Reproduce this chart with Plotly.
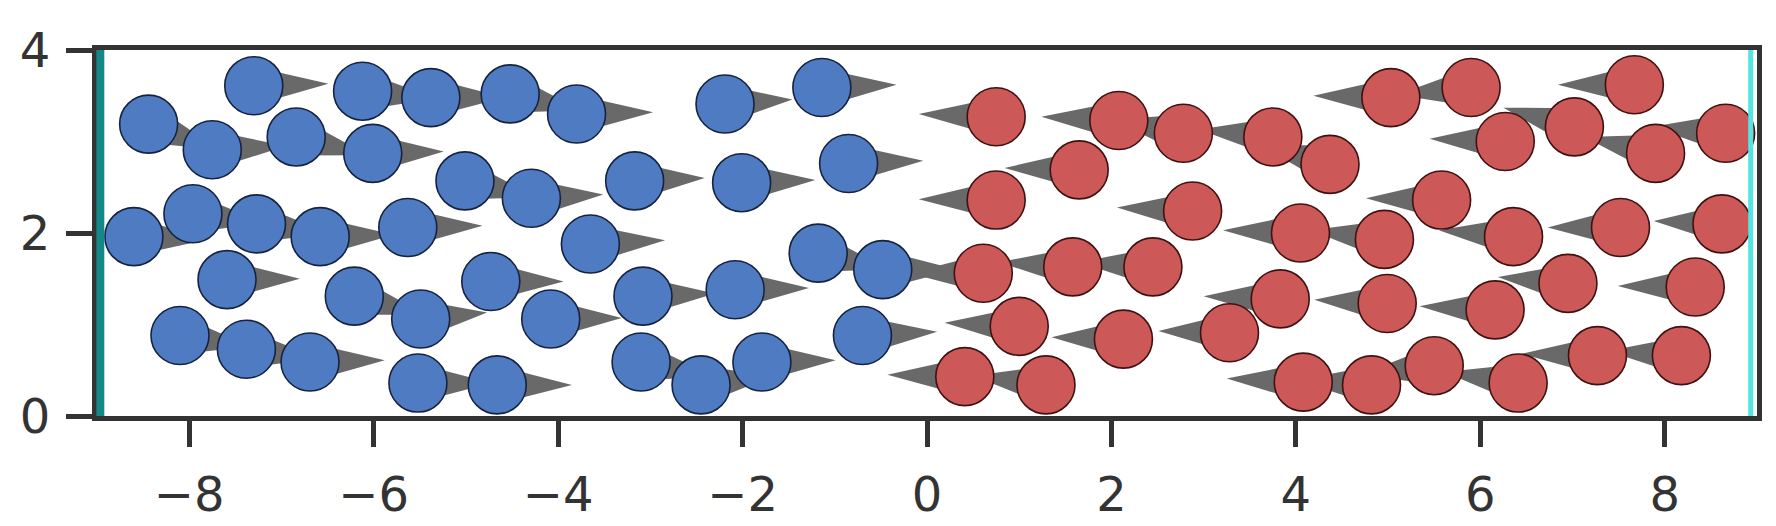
import numpy as np
import plotly.graph_objects as go

# ---------------- data ----------------
blue_x = [-7.30, -8.44, -7.75, -6.84, -6.12, -6.01, -5.38, -4.52, -3.80, -5.01,
          -4.29, -3.17, -2.01, -0.85, -2.19, -1.14, -8.60, -7.96, -7.27, -6.58,
          -7.59, -6.21, -5.49, -8.10, -7.38, -6.69, -5.63, -3.65, -4.73, -4.08,
          -3.08, -3.10, -5.52, -4.66, -2.45, -1.79, -0.70, -1.18, -0.48, -2.08]
blue_y = [3.61, 3.19, 2.91, 3.05, 3.55, 2.87, 3.48, 3.52, 3.30, 2.57,
          2.38, 2.57, 2.55, 2.76, 3.41, 3.59, 1.96, 2.21, 2.10, 1.96,
          1.49, 1.31, 1.06, 0.88, 0.73, 0.59, 2.06, 1.88, 1.47, 1.06,
          1.31, 0.59, 0.36, 0.34, 0.34, 0.59, 0.88, 1.78, 1.60, 1.38]
blue_vx = [0.81, 0.76, 0.80, 0.78, 0.80, 0.77, 0.80, 0.77, 0.83, 0.78,
           0.78, 0.76, 0.80, 0.81, 0.73, 0.81, 0.80, 0.78, 0.78, 0.80,
           0.79, 0.76, 0.72, 0.76, 0.78, 0.81, 0.81, 0.81, 0.79, 0.77,
           0.78, 0.78, 0.80, 0.81, 0.79, 0.80, 0.81, 0.77, 0.80, 0.80]
blue_vy = [0.02, -0.28, 0.04, -0.20, -0.08, 0.02, 0.00, -0.18, 0.02, -0.18,
           0.04, 0.03, 0.03, 0.03, 0.05, 0.03, -0.03, -0.10, -0.10, 0.02,
           0.01, -0.20, 0.07, -0.12, -0.10, 0.02, 0.02, 0.04, 0.00, 0.01,
           0.03, -0.15, 0.00, 0.00, 0.10, 0.02, 0.04, -0.18, 0.00, 0.02]

red_x = [0.75, 2.08, 2.78, 3.75, 4.37, 5.03, 5.90, 7.67, 6.27, 7.02,
         7.90, 8.66, 1.65, 0.75, 2.88, 4.05, 4.96, 5.58, 6.36, 7.52,
         8.62, 0.61, 1.58, 2.45, 1.00, 2.13, 3.28, 3.83, 4.99, 6.16,
         6.95, 8.33, 0.41, 1.29, 4.08, 4.82, 5.50, 6.41, 7.27, 8.18]
red_y = [3.27, 3.23, 3.09, 3.05, 2.75, 3.48, 3.59, 3.62, 3.00, 3.16,
         2.87, 3.09, 2.69, 2.36, 2.24, 2.00, 1.93, 2.36, 1.96, 2.06,
         2.10, 1.56, 1.63, 1.63, 0.98, 0.84, 0.91, 1.28, 1.23, 1.16,
         1.45, 1.41, 0.43, 0.34, 0.37, 0.34, 0.55, 0.36, 0.66, 0.66]
red_vx = [-0.84, -0.84, -0.78, -0.80, -0.77, -0.84, -0.80, -0.83, -0.82, -0.77,
          -0.77, -0.80, -0.81, -0.84, -0.82, -0.84, -0.80, -0.82, -0.81, -0.79,
          -0.74, -0.80, -0.80, -0.80, -0.81, -0.78, -0.77, -0.83, -0.79, -0.82,
          -0.76, -0.84, -0.84, -0.79, -0.83, -0.80, -0.80, -0.80, -0.82, -0.80]
red_vy = [0.03, 0.04, 0.15, 0.08, 0.22, 0.02, -0.08, 0.00, 0.03, 0.21,
          0.18, 0.07, 0.02, 0.01, 0.04, 0.03, 0.10, 0.02, 0.07, 0.00,
          0.03, 0.00, 0.05, 0.05, 0.04, 0.02, 0.02, 0.03, 0.04, 0.04,
          0.07, 0.01, 0.02, 0.10, 0.04, 0.05, -0.10, 0.12, 0.02, 0.05]

x_ticks = [-8, -6, -4, -2, 0, 2, 4, 6, 8]
x_tick_labels = ["\u22128", "\u22126", "\u22124", "\u22122", "0", "2", "4", "6", "8"]
y_ticks = [0, 2, 4]
y_tick_labels = ["0", "2", "4"]

# ---------------- styling ----------------
BLUE = "#4F7BC2"
RED = "#CD5858"
ARROW = "#696969"
HALF_WIDTH = 0.21
FONT = "DejaVu Sans"
DARK = "#333333"


def triangles(xs, ys, vxs, vys):
    px, py = [], []
    for x, y, vx, vy in zip(xs, ys, vxs, vys):
        n = np.hypot(vx, vy)
        ux, uy = vx / n, vy / n
        qx, qy = -uy * HALF_WIDTH, ux * HALF_WIDTH
        px += [x + qx, x + vx, x - qx, x + qx, None]
        py += [y + qy, y + vy, y - qy, y + qy, None]
    return px, py


fig = go.Figure()
for xs, ys, vxs, vys in [(blue_x, blue_y, blue_vx, blue_vy),
                         (red_x, red_y, red_vx, red_vy)]:
    tx, ty = triangles(xs, ys, vxs, vys)
    fig.add_trace(go.Scatter(x=tx, y=ty, mode="lines", fill="toself",
                             fillcolor=ARROW, line=dict(width=0, color=ARROW),
                             hoverinfo="skip", showlegend=False))

fig.add_trace(go.Scatter(x=blue_x, y=blue_y, mode="markers", showlegend=False,
                         marker=dict(size=58, color=BLUE,
                                     line=dict(width=1.6, color="#16233f"))))
fig.add_trace(go.Scatter(x=red_x, y=red_y, mode="markers", showlegend=False,
                         marker=dict(size=58, color=RED,
                                     line=dict(width=1.6, color="#3f1212"))))

axis_common = dict(showgrid=False, zeroline=False, showline=True, mirror=True,
                   linecolor=DARK, linewidth=5, ticks="outside", ticklen=26,
                   tickwidth=5, tickcolor=DARK,
                   tickfont=dict(family=FONT, size=48, color="#333333"))

fig.update_layout(
    width=1776, height=526,
    margin=dict(l=77, r=27, t=42, b=107, pad=0),
    paper_bgcolor="white", plot_bgcolor="white",
    xaxis=dict(range=[-9, 9], tickvals=x_ticks, ticktext=x_tick_labels,
               ticklabelstandoff=6, **axis_common),
    yaxis=dict(range=[0, 4], tickvals=y_ticks, ticktext=y_tick_labels,
               ticklabelstandoff=6, **axis_common),
    shapes=[
        dict(type="line", xref="paper", yref="y", x0=0.002, x1=0.002, y0=0, y1=4,
             line=dict(color="#148888", width=8), layer="above"),
        dict(type="line", xref="paper", yref="y", x0=0.9962, x1=0.9962, y0=0, y1=4,
             line=dict(color="#55E3E3", width=5), layer="above"),
    ],
)

fig.write_html("out.html")
